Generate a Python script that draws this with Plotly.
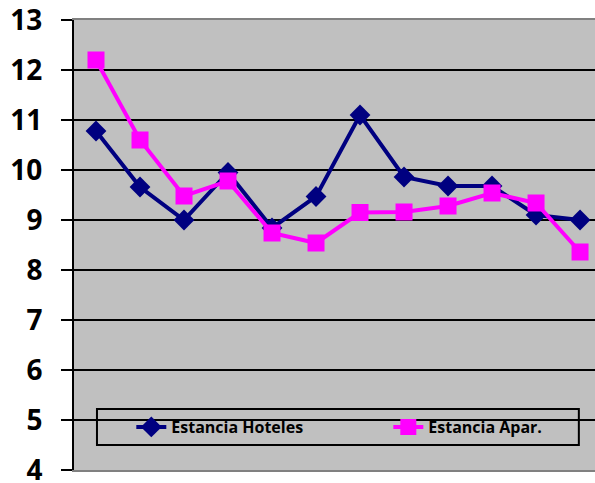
import plotly.graph_objects as go

categories = list(range(1, 13))
hoteles = [10.78, 9.66, 9.0, 9.95, 8.84, 9.47, 11.1, 9.86, 9.68, 9.68, 9.1, 9.0]
apar = [12.2, 10.6, 9.48, 9.78, 8.74, 8.54, 9.15, 9.16, 9.28, 9.54, 9.34, 8.36]
y_ticks = [4, 5, 6, 7, 8, 9, 10, 11, 12, 13]

fig = go.Figure()
fig.add_trace(go.Scatter(
    x=categories, y=hoteles, name="Estancia Hoteles", mode="lines+markers",
    line=dict(color="#000080", width=4),
    marker=dict(symbol="diamond", size=16, color="#000080"),
))
fig.add_trace(go.Scatter(
    x=categories, y=apar, name="Estancia Apar.", mode="lines+markers",
    line=dict(color="#FF00FF", width=4),
    marker=dict(symbol="square", size=17, color="#FF00FF"),
))

fig.add_shape(type="rect", xref="paper", yref="paper",
              x0=0.0441, x1=0.969, y0=0.0556, y1=0.1356,
              line=dict(color="black", width=2), fillcolor="rgba(0,0,0,0)", layer="above")

fig.update_layout(
    width=595, height=483,
    margin=dict(l=74, r=0, t=20, b=13, autoexpand=False),
    paper_bgcolor="white",
    plot_bgcolor="#C0C0C0",
    font=dict(family="Open Sans", color="black"),
    showlegend=True,
    legend=dict(
        orientation="h", x=0.11, xanchor="left", y=0.0956, yanchor="middle",
        bgcolor="rgba(0,0,0,0)", borderwidth=0,
        font=dict(family="Open Sans", size=16, color="black", weight="bold"),
        entrywidth=212, entrywidthmode="pixels",
        itemclick=False,
    ),
    xaxis=dict(
        range=[0.5, 12.34], showticklabels=False, ticks="", showgrid=False,
        zeroline=False, showline=True, linecolor="#808080", linewidth=2, mirror=True,
        automargin=False,
    ),
    yaxis=dict(
        range=[4, 13], tickvals=y_ticks, ticks="outside", ticklen=11,
        tickwidth=2, tickcolor="black",
        showline=True, linecolor="black", linewidth=2,
        showgrid=True, gridcolor="black", gridwidth=2, zeroline=False,
        tickfont=dict(family="Open Sans", size=28, color="black", weight="bold"),
        ticklabelstandoff=13, automargin=False, ticklabeloverflow="allow",
    ),
)

fig.write_html("out.html", config={"displayModeBar": False},
               post_script="document.body.style.margin='0';document.body.style.overflow='hidden';")
